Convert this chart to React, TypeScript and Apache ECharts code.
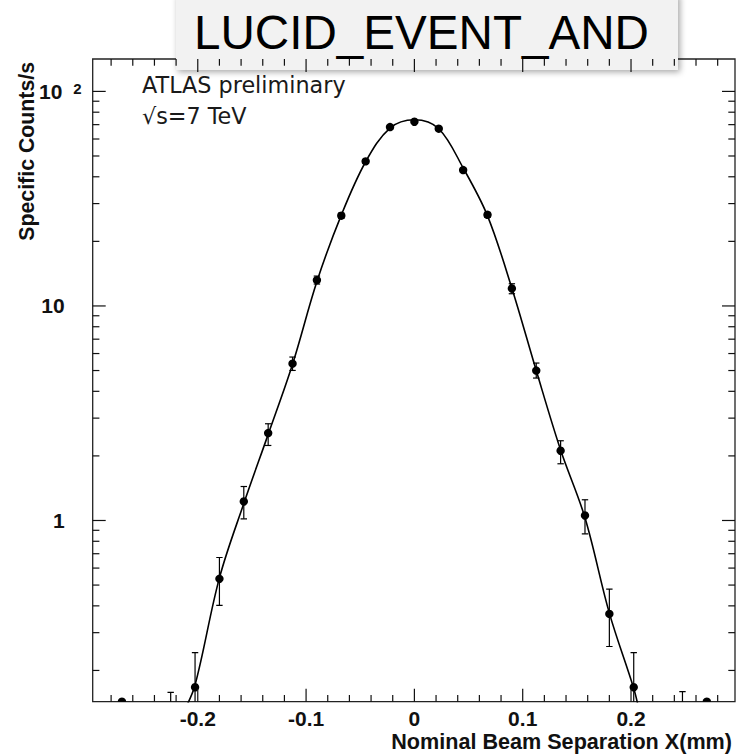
import React, { useEffect, useRef } from "react";
import * as echarts from "echarts";

// Beam-separation scan points (mm) and measured specific rates (counts/s)
const scanX = [
  -0.27, -0.225, -0.2025, -0.18, -0.1575, -0.135, -0.1125, -0.09, -0.0675, -0.045, -0.0225,
  0, 0.0225, 0.045, 0.0675, 0.09, 0.1125, 0.135, 0.1575, 0.18, 0.2025, 0.2475, 0.27,
];
const rate = [
  0.143, 0.09, 0.167, 0.535, 1.226, 2.556, 5.38, 13.2, 26.34, 47.2, 68.2,
  72.2, 67.0, 43.0, 26.6, 12.06, 5.0, 2.114, 1.055, 0.367, 0.167, 0.09, 0.143,
];
const rateLow = [
  0.143, 0.05, 0.1, 0.402, 1.018, 2.237, 5.005, 12.65, 25.6, 46.2, 66.9,
  70.9, 65.7, 42.1, 25.9, 11.4, 4.612, 1.838, 0.867, 0.2586, 0.1, 0.05, 0.143,
];
const rateHigh = [
  0.143, 0.158, 0.2424, 0.672, 1.44, 2.824, 5.779, 13.78, 27.1, 48.2, 69.5,
  73.5, 68.3, 43.9, 27.3, 12.69, 5.418, 2.353, 1.249, 0.4788, 0.2424, 0.1595, 0.143,
];

// Fitted scan curve
const fitX = [
  -0.2125, -0.2025, -0.18, -0.1575, -0.135, -0.1125, -0.09, -0.0675, -0.045, -0.0225, 0,
  0.0225, 0.045, 0.0675, 0.09, 0.1125, 0.135, 0.1575, 0.18, 0.2025, 0.2075,
];
const fitY = [
  0.13, 0.171, 0.54, 1.2, 2.52, 5.35, 13.0, 26.5, 47.0, 67.5, 73.8,
  67.0, 44.0, 26.3, 12.1, 5.0, 2.13, 1.03, 0.37, 0.165, 0.13,
];

// Axis ranges and tick values
const xRange = [-0.297, 0.296];
const yRange = [0.143, 141.6];
const xMajorTicks = [-0.2, -0.1, 0, 0.1, 0.2];
const xMinorTicks = [
  -0.28, -0.26, -0.24, -0.22, -0.18, -0.16, -0.14, -0.12, -0.08, -0.06, -0.04, -0.02,
  0.02, 0.04, 0.06, 0.08, 0.12, 0.14, 0.16, 0.18, 0.22, 0.24, 0.26, 0.28,
];
const yMajorTicks = [1, 10, 100];
const yMinorTicks = [
  0.2, 0.3, 0.4, 0.5, 0.6, 0.7, 0.8, 0.9, 2, 3, 4, 5, 6, 7, 8, 9, 20, 30, 40, 50, 60, 70, 80, 90,
];

const titleText = "LUCID_EVENT_AND";
const xTitle = "Nominal Beam Separation X(mm)";
const yTitle = "Specific Counts/s";
const notes = ["ATLAS preliminary", "\u221As=7 TeV"];

const AXIS_FONT = "'Liberation Sans', Arial, sans-serif";
const NOTE_FONT = "'DejaVu Sans', sans-serif";
const MAJOR_LEN = 13;
const MINOR_LEN = 6.7;
const INK = "#111";

export default function App() {
  const ref = useRef<HTMLDivElement>(null);

  useEffect(() => {
    if (!ref.current) return;
    const chart = echarts.init(ref.current, undefined, { renderer: "svg" });

    const points = scanX.map((x, i) => [x, rate[i], rateLow[i], rateHigh[i]]);
    const fit = fitX.map((x, i) => [x, fitY[i]]);
    const xTicks = [
      ...xMajorTicks.map((v) => [v, 1, MAJOR_LEN]),
      ...xMinorTicks.map((v) => [v, 1, MINOR_LEN]),
    ];
    const yTicks = [
      ...yMajorTicks.map((v) => [0, v, MAJOR_LEN]),
      ...yMinorTicks.map((v) => [0, v, MINOR_LEN]),
    ];

    const tickStyle = { stroke: INK, lineWidth: 1.2 };

    chart.setOption({
      animation: false,
      backgroundColor: "#fff",
      grid: {
        left: 92.7,
        right: 4,
        top: 59,
        bottom: 53.3,
        show: true,
        borderColor: "#222",
        borderWidth: 1.3,
      },
      xAxis: {
        type: "value",
        min: xRange[0],
        max: xRange[1],
        axisLine: { show: false },
        axisTick: { show: false },
        splitLine: { show: false },
        axisLabel: {
          showMinLabel: false,
          showMaxLabel: false,
          margin: 6,
          color: INK,
          fontSize: 21,
          fontWeight: "bold",
          fontFamily: AXIS_FONT,
        },
      },
      yAxis: {
        type: "log",
        logBase: 10,
        min: yRange[0],
        max: yRange[1],
        axisLine: { show: false },
        axisTick: { show: false },
        splitLine: { show: false },
        axisLabel: {
          showMinLabel: false,
          showMaxLabel: false,
          margin: 11,
          formatter: (v: number) => {
            const e = Math.round(Math.log10(v));
            if (e >= 2) return `{n|10}{s|${e}}`;
            return `{m|${Math.round(v)}}`;
          },
          rich: {
            n: { fontSize: 21, fontWeight: "bold", fontFamily: AXIS_FONT, color: INK },
            m: {
              fontSize: 21,
              fontWeight: "bold",
              fontFamily: AXIS_FONT,
              color: INK,
              padding: [0, 17, 0, 0],
            },
            s: {
              fontSize: 15,
              fontWeight: "bold",
              fontFamily: AXIS_FONT,
              color: INK,
              verticalAlign: "top",
              padding: [0, 0, 0, 11],
            },
          },
        },
      },
      series: [
        {
          type: "line",
          data: fit,
          smooth: 0.35,
          showSymbol: false,
          symbol: "none",
          clip: true,
          lineStyle: { color: "#000", width: 1.6 },
          z: 2,
        },
        {
          type: "custom",
          coordinateSystem: "cartesian2d",
          clip: true,
          z: 3,
          data: points,
          encode: { x: 0, y: 1 },
          renderItem: (params: any, api: any) => {
            const x = api.value(0);
            const y = api.value(1);
            const lo = api.value(2);
            const hi = api.value(3);
            const c = api.coord([x, y]);
            const children: any[] = [];
            if (hi > lo) {
              const pLo = api.coord([x, lo]);
              const pHi = api.coord([x, hi]);
              const barStyle = { stroke: "#000", lineWidth: 1.2 };
              children.push(
                { type: "line", shape: { x1: c[0], y1: pLo[1], x2: c[0], y2: pHi[1] }, style: barStyle },
                { type: "line", shape: { x1: c[0] - 3.2, y1: pLo[1], x2: c[0] + 3.2, y2: pLo[1] }, style: barStyle },
                { type: "line", shape: { x1: c[0] - 3.2, y1: pHi[1], x2: c[0] + 3.2, y2: pHi[1] }, style: barStyle }
              );
            }
            children.push({ type: "circle", shape: { cx: c[0], cy: c[1], r: 4.2 }, style: { fill: "#000" } });
            return { type: "group", children };
          },
        },
        {
          type: "custom",
          coordinateSystem: "cartesian2d",
          clip: false,
          silent: true,
          z: 4,
          data: xTicks,
          encode: { x: 0, y: 1 },
          renderItem: (params: any, api: any) => {
            const cs = params.coordSys;
            const px = api.coord([api.value(0), 1])[0];
            const len = api.value(2);
            const bottom = cs.y + cs.height;
            return {
              type: "group",
              children: [
                { type: "line", shape: { x1: px, y1: bottom, x2: px, y2: bottom - len }, style: tickStyle },
                { type: "line", shape: { x1: px, y1: cs.y, x2: px, y2: cs.y + len }, style: tickStyle },
              ],
            };
          },
        },
        {
          type: "custom",
          coordinateSystem: "cartesian2d",
          clip: false,
          silent: true,
          z: 4,
          data: yTicks,
          encode: { x: 0, y: 1 },
          renderItem: (params: any, api: any) => {
            const cs = params.coordSys;
            const py = api.coord([0, api.value(1)])[1];
            const len = api.value(2);
            const right = cs.x + cs.width;
            return {
              type: "group",
              children: [
                { type: "line", shape: { x1: cs.x, y1: py, x2: cs.x + len, y2: py }, style: tickStyle },
                { type: "line", shape: { x1: right, y1: py, x2: right - len, y2: py }, style: tickStyle },
              ],
            };
          },
        },
      ],
      graphic: [
        {
          type: "text",
          x: 142,
          y: 85.2,
          style: {
            text: notes[0],
            fontSize: 22.3,
            fontFamily: NOTE_FONT,
            fill: "#1a1a1a",
            align: "left",
            verticalAlign: "middle",
          },
        },
        {
          type: "text",
          x: 142,
          y: 116.3,
          style: {
            text: notes[1],
            fontSize: 22.3,
            fontFamily: NOTE_FONT,
            fill: "#1a1a1a",
            align: "left",
            verticalAlign: "middle",
          },
        },
        {
          type: "text",
          x: 27,
          y: 62,
          rotation: Math.PI / 2,
          style: {
            text: yTitle,
            fontSize: 21.3,
            fontWeight: "bold",
            fontFamily: AXIS_FONT,
            fill: INK,
            align: "right",
            verticalAlign: "middle",
          },
        },
        {
          type: "text",
          x: 732,
          y: 741,
          style: {
            text: xTitle,
            fontSize: 21.6,
            fontWeight: "bold",
            fontFamily: AXIS_FONT,
            fill: INK,
            align: "right",
            verticalAlign: "middle",
          },
        },
        {
          type: "group",
          z: 100,
          children: [
            {
              type: "rect",
              shape: { x: 176, y: -6, width: 502, height: 76 },
              style: {
                fill: "#f2f2f2",
                shadowBlur: 6,
                shadowOffsetX: 2,
                shadowOffsetY: 2,
                shadowColor: "rgba(0,0,0,0.35)",
              },
            },
            {
              type: "text",
              x: 194,
              y: 32,
              style: {
                text: titleText,
                fontSize: 47.6,
                fontFamily: AXIS_FONT,
                fill: "#000",
                align: "left",
                verticalAlign: "middle",
              },
            },
          ],
        },
      ],
    });

    return () => chart.dispose();
  }, []);

  return (
    <div
      ref={ref}
      style={{ position: "absolute", left: 0, top: 0, width: 739, height: 755, background: "#fff" }}
    />
  );
}
